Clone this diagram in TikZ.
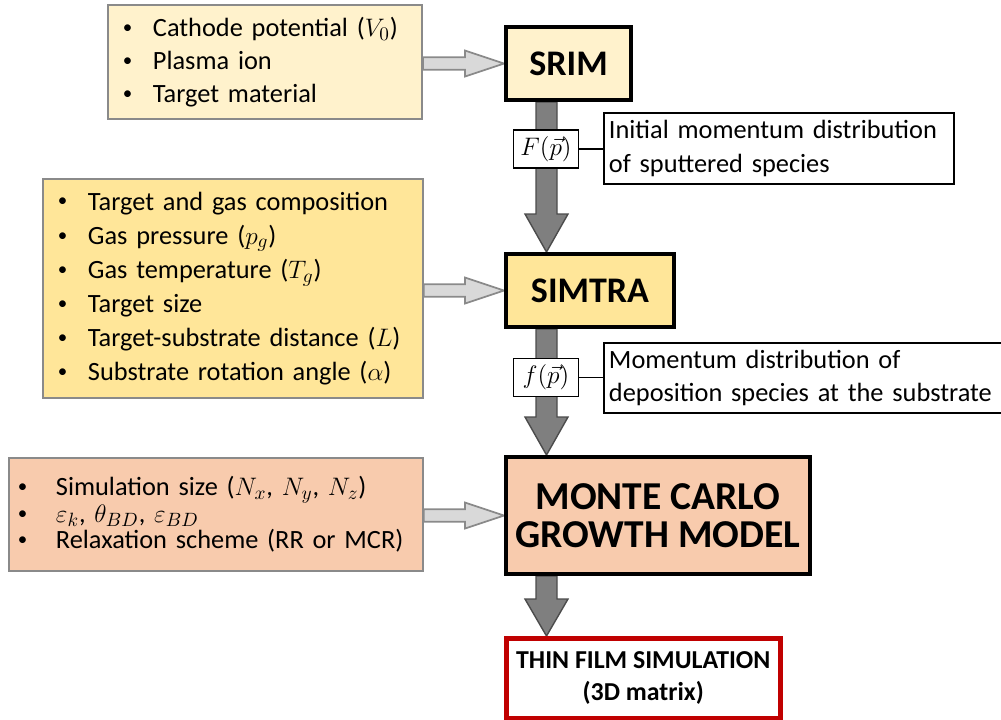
\documentclass[tikz,border=0pt]{standalone}
\usepackage{fontspec}
\setmainfont{Carlito}
\usepackage{amsmath}
\usepackage{xcolor}
\usetikzlibrary{positioning, calc, backgrounds}

\definecolor{creamfill}{HTML}{FFF2CC}
\definecolor{goldfill}{HTML}{FFE699}
\definecolor{peachfill}{HTML}{F8CBAD}
\definecolor{filmred}{HTML}{C00000}
\definecolor{boxgray}{HTML}{8A8A8A}
\definecolor{lightarrow}{HTML}{D9D9D9}
\definecolor{darkarrow}{HTML}{7F7F7F}

\tikzset{
    inbox/.style={draw=boxgray, line width=1.1pt, align=left, anchor=north west, inner ysep=0pt},
    toolbox/.style={draw=black, line width=2.3pt, anchor=north west, align=center, font=\fontsize{20.5}{22}\selectfont\bfseries},
    distbox/.style={draw=black, line width=1.1pt, fill=white, inner sep=0pt, minimum width=1.3cm, minimum height=0.76cm, font=\fontsize{15.5}{18}\selectfont},
    notebox/.style={draw=black, line width=1.1pt, fill=white, align=left, anchor=west, inner xsep=0.1cm, font=\fontsize{15}{19.3}\selectfont},
    lightarr/.style={fill=lightarrow, draw=boxgray, line width=1pt},
    darkarr/.style={fill=darkarrow, draw=black!70, line width=0.8pt}
}

% small bullet with fixed gap
\newcommand{\bitem}[1][0.6cm]{\makebox[#1][l]{\raisebox{0.12em}{\scalebox{0.72}{\textbullet}}}}

% block arrow: style, from, to, shaft half width, head half width, head length
\newcommand{\blockarrow}[6]{%
    \coordinate (ba-s) at (#2);
    \coordinate (ba-e) at (#3);
    \coordinate (ba-c) at ($(ba-e)!#6!(ba-s)$);
    \draw[#1] ($(ba-s)!#4!90:(ba-e)$) -- ($(ba-c)!#4!90:(ba-e)$) -- ($(ba-c)!#5!90:(ba-e)$)
        -- (ba-e) -- ($(ba-c)!#5!-90:(ba-e)$) -- ($(ba-c)!#4!-90:(ba-e)$) -- ($(ba-s)!#4!-90:(ba-e)$) -- cycle;
}

\begin{document}
\begin{tikzpicture}[x=0.02cm, y=-0.02cm]

    \useasboundingbox (0,0) rectangle (1001,720);

    % ---------------------------------------------------
    % 1. SRIM stage
    % ---------------------------------------------------
    \node[inbox, fill=creamfill, minimum width=6.28cm, minimum height=2.28cm,
          inner xsep=0.3cm, text width=5.68cm, font=\fontsize{15}{18.7}\selectfont] (inA) at (107,4)
        {\bitem Cathode potential ($V_0$)\\
         \bitem Plasma ion\\
         \bitem Target material};
    \node[toolbox, fill=creamfill, minimum width=2.5cm, minimum height=1.46cm] (srim) at (504,25) {SRIM};

    % ---------------------------------------------------
    % 2. SIMTRA stage
    % ---------------------------------------------------
    \node[inbox, fill=goldfill, minimum width=7.6cm, minimum height=4.38cm,
          inner xsep=0.3cm, text width=7.0cm, font=\fontsize{15}{19.4}\selectfont] (inB) at (42,178)
        {\bitem Target and gas composition\\
         \bitem Gas pressure ($p_g$)\\
         \bitem Gas temperature ($T_g$)\\
         \bitem Target size\\
         \bitem Target-substrate distance ($L$)\\
         \bitem Substrate rotation angle ($\alpha$)};
    \node[toolbox, fill=goldfill, minimum width=3.36cm, minimum height=1.46cm] (simtra) at (504,252) {SIMTRA};

    % ---------------------------------------------------
    % 3. Monte Carlo stage
    % ---------------------------------------------------
    \node[inbox, fill=peachfill, minimum width=8.28cm, minimum height=2.26cm,
          inner xsep=0.18cm, text width=7.92cm, font=\fontsize{15}{15.2}\selectfont] (inC) at (8,457)
        {\bitem[0.76cm]Simulation size ($N_x$, $N_y$, $N_z$)\\
         \bitem[0.76cm]$\varepsilon_k$, $\theta_{BD}$, $\varepsilon_{BD}$\\
         \bitem[0.76cm]Relaxation scheme (RR or MCR)};
    \node[toolbox, fill=peachfill, minimum width=6.08cm, minimum height=2.34cm,
          font=\fontsize{22.5}{21.5}\selectfont\bfseries] (mcgm) at (504,455) {MONTE CARLO\\GROWTH MODEL};

    % Result
    \node[draw=filmred, line width=2.6pt, fill=white, anchor=north west, align=center,
          minimum width=5.48cm, minimum height=1.6cm,
          font=\fontsize{14.7}{18}\selectfont\bfseries] (film) at (504,636) {THIN FILM SIMULATION\\(3D matrix)};

    % ---------------------------------------------------
    % Block arrows
    % ---------------------------------------------------
    \coordinate (ax) at (546.5,0);
    \begin{scope}[on background layer]
        \blockarrow{lightarr}{inA.east |- srim.west}{srim.west}{0.125cm}{0.26cm}{0.78cm}
        \blockarrow{lightarr}{inB.east |- simtra.west}{simtra.west}{0.125cm}{0.26cm}{0.78cm}
        \blockarrow{lightarr}{inC.east |- mcgm.west}{mcgm.west}{0.125cm}{0.26cm}{0.78cm}

        \blockarrow{darkarr}{srim.south -| ax}{simtra.north -| ax}{0.21cm}{0.43cm}{0.76cm}
        \blockarrow{darkarr}{simtra.south -| ax}{mcgm.north -| ax}{0.21cm}{0.43cm}{0.76cm}
        \blockarrow{darkarr}{mcgm.south -| ax}{film.north -| ax}{0.21cm}{0.43cm}{0.74cm}
    \end{scope}

    % ---------------------------------------------------
    % Momentum distributions
    % ---------------------------------------------------
    \node[distbox] (Fp) at (546,149) {$F(\vec{p})$};
    \node[notebox, text width=6.8cm, minimum height=1.42cm] (noteF) at (603,148.5)
        {Initial momentum distribution\\of sputtered species};
    \draw[line width=1.1pt] (Fp.east) -- (Fp.east -| noteF.west);

    \node[distbox] (fp) at (546,377.5) {$f(\vec{p})$};
    \node[notebox, text width=7.9cm, minimum height=1.4cm] (notef) at (603,378)
        {Momentum distribution of\\deposition species at the substrate};
    \draw[line width=1.1pt] (fp.east) -- (fp.east -| notef.west);

\end{tikzpicture}
\end{document}
